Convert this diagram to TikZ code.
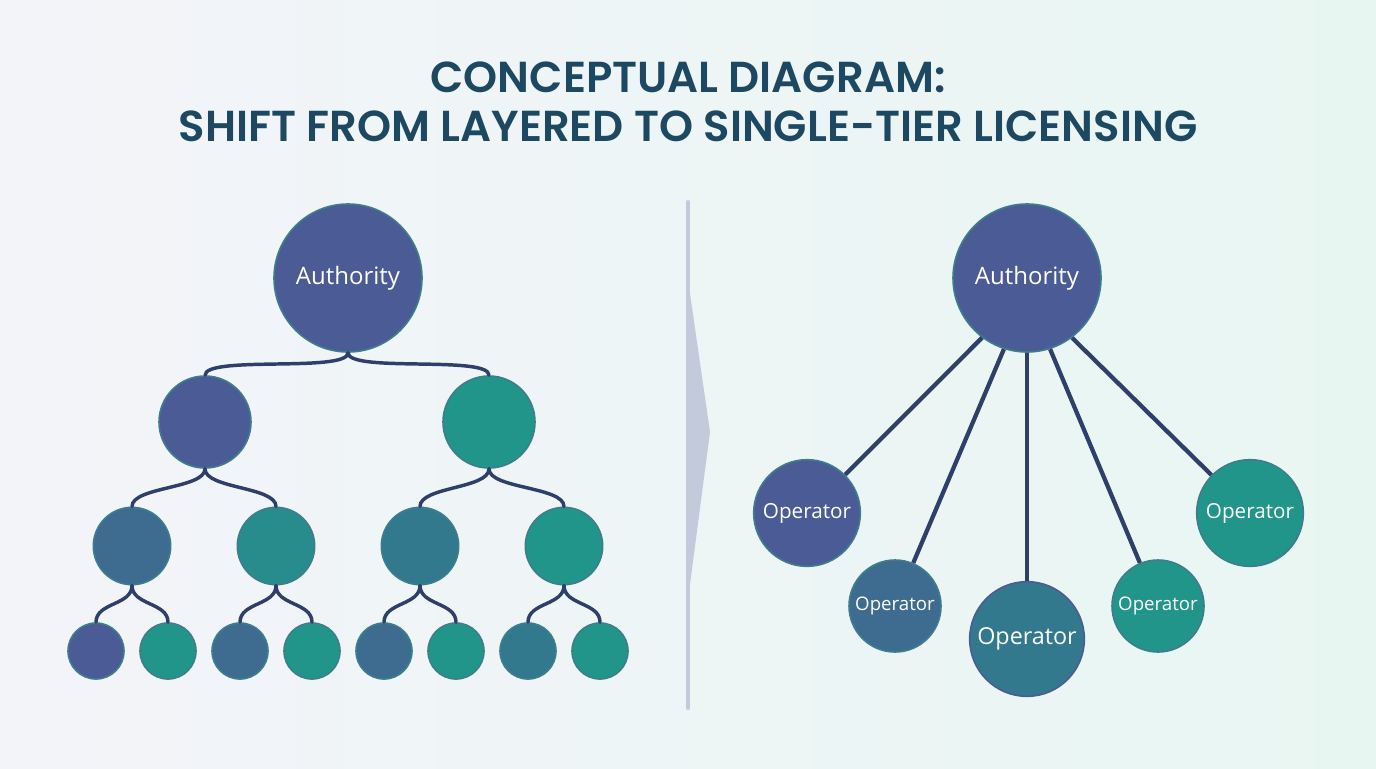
\documentclass[tikz,border=0pt]{standalone}
\usepackage{fontspec}
\usepackage{xcolor}
\usepackage{tikz}
\newfontfamily\labelfont{Open Sans}
\newfontfamily\titlefont{Poppins SemiBold}
\definecolor{bgleft}{HTML}{F3F4F9}
\definecolor{bgright}{HTML}{E8F6F2}
\definecolor{heading}{HTML}{1C4862}
\definecolor{slate}{HTML}{4B5B95}
\definecolor{slateteal}{HTML}{3E6C90}
\definecolor{midteal}{HTML}{33798E}
\definecolor{teal}{HTML}{22958A}
\definecolor{ring}{HTML}{3C7E8C}
\definecolor{link}{HTML}{2F3F6B}
\definecolor{divider}{HTML}{C3CADC}

\begin{document}
\begin{tikzpicture}[x=0.75pt,y=-0.75pt,
  heading/.style={font=\titlefont\fontsize{32.5}{36}\selectfont,text=heading},
  blob/.style={circle,inner sep=0pt,draw=ring,line width=1.2pt,text=white},
  hub/.style={blob,fill=slate,minimum size=111pt,font=\labelfont\fontsize{18}{21}\selectfont},
  tierone/.style={blob,minimum size=69pt},
  tiertwo/.style={blob,minimum size=58pt},
  tierthree/.style={blob,minimum size=42pt},
  opbig/.style={blob,minimum size=80pt,font=\labelfont\fontsize{15.5}{18}\selectfont},
  opsmall/.style={blob,minimum size=69pt,font=\labelfont\fontsize{14}{16}\selectfont},
  opmid/.style={blob,minimum size=86pt,font=\labelfont\fontsize{17.5}{20}\selectfont},
  branch/.style={draw=link,line width=2.6pt,line cap=round},
  spoke/.style={draw=link,line width=3.2pt}]
  \useasboundingbox (0,0) rectangle (1376,768);
  \shade[left color=bgleft,right color=bgright] (0,0) rectangle (1376,768);
  \node[heading] (head1) at (688,77) {CONCEPTUAL DIAGRAM:};
  \node[heading] (head2) at (688,126) {SHIFT FROM LAYERED TO SINGLE-TIER LICENSING};

  % layered licensing
  \node[hub] (root) at (348,278) {Authority};
  \node[tierone,fill=slate] (m1) at (205,422) {};
  \node[tierone,fill=teal] (m2) at (489,422) {};
  \foreach \i/\x/\c in {1/132/slateteal,2/276/teal!85!slate,3/420/midteal,4/564/teal} {
    \node[tiertwo,fill=\c] (s\i) at (\x,546) {};
  }
  \foreach \i/\x/\c in {1/96/slate,2/168/teal,3/240/slateteal,4/312/teal,
                        5/384/slateteal,6/456/teal,7/528/midteal,8/600/teal} {
    \node[tierthree,fill=\c] (l\i) at (\x,651) {};
  }
  \foreach \p/\q in {root/m1,root/m2,m1/s1,m1/s2,m2/s3,m2/s4,
                     s1/l1,s1/l2,s2/l3,s2/l4,s3/l5,s3/l6,s4/l7,s4/l8} {
    \draw[branch] (\p.south) .. controls +(0,20) and +(0,-20) .. (\q.north);
  }

  % divider
  \draw[divider,line width=3pt,line cap=round] (688,202) -- (688,708);
  \fill[divider] (687,273) -- (710,432) -- (687,607) -- cycle;

  % single tier
  \node[hub] (auth) at (1027,278) {Authority};
  \node[opbig,fill=slate] (o1) at (807,513) {Operator};
  \node[opsmall,fill=slateteal] (o2) at (895,606) {Operator};
  \node[opmid,fill=midteal,draw=slate] (o3) at (1027,639) {Operator};
  \node[opsmall,fill=teal] (o4) at (1158,606) {Operator};
  \node[opbig,fill=teal] (o5) at (1250,513) {Operator};
  \foreach \a/\o in {233/o1,252/o2,270/o3,288/o4,307/o5} {
    \draw[spoke] (auth.\a) -- (\o);
  }
\end{tikzpicture}
\end{document}
